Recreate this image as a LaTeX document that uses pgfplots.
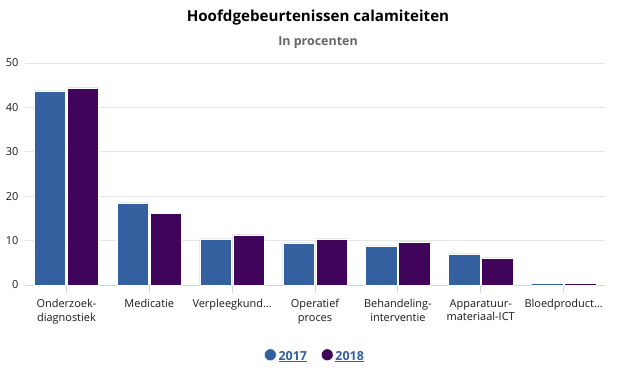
\documentclass[border=0pt]{standalone}
\usepackage{pgfplots}
\pgfplotsset{compat=1.18}
\usepackage{fontspec}
\setmainfont{Open Sans}
\definecolor{c17}{HTML}{34609F}
\definecolor{c18}{HTML}{40055A}
\definecolor{gridc}{HTML}{E6E6E6}
\definecolor{axc}{HTML}{CCD6EB}
\definecolor{txt}{HTML}{1A1A1A}
\begin{document}
\begin{tikzpicture}[x=1bp,y=1bp]
\fill[white] (0,0) rectangle (636,376);
\useasboundingbox (0,0) rectangle (636,376);
\node[font=\bfseries\fontsize{15.2}{18}\selectfont, text=black] at (318,358) {Hoofdgebeurtenissen calamiteiten};
\node[font=\bfseries\fontsize{12.5}{15}\selectfont, text=black!60] at (318,333) {In procenten};
\begin{axis}[
  at={(25bp,91bp)}, anchor=south west,
  scale only axis, width=580bp, height=222bp,
  ybar=1.5bp, bar width=31.5bp,
  xmin=-0.5, xmax=6.5, ymin=0, ymax=50,
  ytick={0,10,...,50},
  xtick={0,...,6},
  xticklabels={{Onderzoek-\\diagnostiek},{Medicatie},{Verpleegkund\ldots},{Operatief\\proces},{Behandeling-\\interventie},{Apparatuur-\\materiaal-ICT},{Bloedproduct\ldots}},
  xticklabel style={align=center, font=\fontsize{11}{13.5}\selectfont, text=txt, yshift=-3bp},
  yticklabel style={font=\fontsize{11}{13}\selectfont, text=txt, xshift=-1bp, anchor=east, at={(-4bp,0)}},
  yticklabel shift=-6bp,
  /pgf/number format/assume math mode=true,
  ymajorgrids, grid style={gridc, line width=0.8bp},
  axis x line*=bottom, axis y line*=left,
  x axis line style={draw=axc, line width=1bp, -},
  y axis line style={draw=none},
  ytick style={draw=none},
  xtick style={draw=axc, line width=0.8bp},
  tick align=outside, major tick length=8bp,
  legend style={at={(0.5,-0.32)}, anchor=center, draw=none, fill=none,
    font=\bfseries\fontsize{12.5}{15}\selectfont, text=c17,
    legend columns=2, /tikz/every even column/.append style={column sep=12bp}},
  legend image code/.code={\fill[#1] (0.35em,0.15em) circle (6bp);},
  clip=false,
]
\addplot[fill=c17, draw=white, line width=0.5bp] coordinates {(0,43.7) (1,18.5) (2,10.4) (3,9.5) (4,8.8) (5,7.0) (6,0.4)};
\addlegendentry{\underline{2017}}
\addplot[fill=c18, draw=white, line width=0.5bp] coordinates {(0,44.4) (1,16.2) (2,11.3) (3,10.4) (4,9.7) (5,6.1) (6,0.3)};
\addlegendentry{\underline{2018}}
\end{axis}
\end{tikzpicture}
\end{document}
